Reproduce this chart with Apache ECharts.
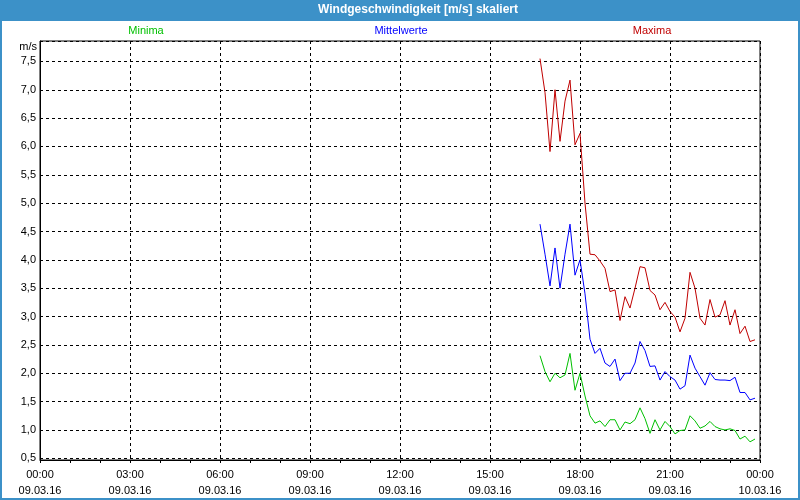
<!DOCTYPE html>
<html><head><meta charset="utf-8">
<script src="https://cdn.jsdelivr.net/npm/echarts@6/dist/echarts.min.js"></script>
<style>html,body{margin:0;padding:0;background:#fff}#c{width:800px;height:500px}</style>
</head><body><div id="c"></div>
<script>
// sampling: first value at 09.03.16 16:40, one value every 10 minutes
const startMinute = 16 * 60 + 40;
const stepMinutes = 10;

const minima = [2.31, 2.03, 1.85, 2.0, 1.92, 1.97, 2.35, 1.7, 2.0, 1.6, 1.25, 1.12, 1.16, 1.06, 1.18, 1.18, 1.0, 1.14, 1.11, 1.18, 1.39, 1.2, 0.94, 1.18, 1.0, 1.15, 1.06, 0.93, 0.99, 1.0, 1.25, 1.16, 1.03, 1.07, 1.15, 1.06, 1.02, 1.0, 1.02, 0.99, 0.84, 0.89, 0.79, 0.84];
const mittelwerte = [4.63, 4.1, 3.54, 4.21, 3.5, 4.1, 4.63, 3.73, 4.0, 3.4, 2.6, 2.35, 2.44, 2.18, 2.12, 2.25, 1.87, 2.0, 2.0, 2.18, 2.56, 2.4, 2.12, 2.13, 1.88, 2.03, 1.94, 1.88, 1.72, 1.78, 2.32, 2.09, 1.94, 1.79, 2.01, 1.89, 1.88, 1.88, 1.87, 1.93, 1.66, 1.66, 1.53, 1.56];
const maxima = [7.55, 6.95, 5.91, 7.0, 6.09, 6.8, 7.17, 6.03, 6.23, 5.0, 4.1, 4.09, 3.98, 3.85, 3.44, 3.47, 2.93, 3.35, 3.15, 3.5, 3.88, 3.86, 3.46, 3.38, 3.12, 3.25, 3.09, 2.99, 2.73, 2.97, 3.78, 3.5, 2.97, 2.85, 3.3, 2.99, 3.03, 3.28, 2.85, 3.12, 2.7, 2.83, 2.56, 2.59];

const xTickTimes = ['00:00', '03:00', '06:00', '09:00', '12:00', '15:00', '18:00', '21:00', '00:00'];
const xTickDates = ['09.03.16', '09.03.16', '09.03.16', '09.03.16', '09.03.16', '09.03.16', '09.03.16', '09.03.16', '10.03.16'];

const seriesNames = ['Minima', 'Mittelwerte', 'Maxima'];
const seriesColors = ['#00c000', '#0000ff', '#c00000'];
const chartTitle = 'Windgeschwindigkeit [m/s] skaliert';
const yUnit = 'm/s';

const FONT = '"Liberation Sans", Arial, sans-serif';
const BAR = '#3c91c8';

function pairs(arr) { return arr.map((v, i) => [startMinute + i * stepMinutes, v]); }

const chart = echarts.init(document.getElementById('c'), null, { renderer: 'canvas' });
const dashed = { color: '#000', type: [3, 3], width: 1 };

chart.setOption({
  animation: false,
  backgroundColor: '#fff',
  grid: { left: 40, right: 40, top: 41, bottom: 40, show: true, borderColor: '#000', borderWidth: 1, backgroundColor: 'transparent' },
  xAxis: {
    type: 'value', min: 0, max: 1440, interval: 180,
    axisLine: { show: true, lineStyle: { color: '#000', width: 1 } },
    axisTick: { show: true, length: 3, lineStyle: { color: '#000' } },
    minorTick: { show: true, splitNumber: 3, length: 3, lineStyle: { color: '#000' } },
    splitLine: { show: true, lineStyle: dashed },
    axisLabel: {
      color: '#000', fontSize: 11, fontFamily: FONT, margin: 7, lineHeight: 16,
      showMinLabel: true, showMaxLabel: true,
      formatter: v => { const k = Math.round(v / 180); return xTickTimes[k] + '\n' + xTickDates[k]; }
    }
  },
  yAxis: {
    type: 'value', min: 0.47, max: 7.86, splitNumber: 15,
    axisLine: { show: true, lineStyle: { color: '#000', width: 1 } },
    axisTick: { show: false },
    splitLine: { show: true, lineStyle: dashed },
    axisLabel: {
      color: '#000', fontSize: 11, fontFamily: FONT, margin: 4,
      showMinLabel: false, showMaxLabel: false,
      formatter: v => v.toFixed(1).replace('.', ',')
    }
  },
  series: [maxima, mittelwerte, minima].map((arr, j) => {
    const idx = 2 - j;
    return {
      name: seriesNames[idx], type: 'line', data: pairs(arr), showSymbol: false, symbol: 'none',
      lineStyle: { color: seriesColors[idx], width: 1 }, itemStyle: { color: seriesColors[idx] }
    };
  }),
  graphic: [
    { type: 'rect', shape: { x: 0, y: 0, width: 800, height: 21 }, style: { fill: BAR }, silent: true },
    { type: 'rect', shape: { x: 0, y: 0, width: 2, height: 500 }, style: { fill: BAR }, silent: true },
    { type: 'rect', shape: { x: 798, y: 0, width: 2, height: 500 }, style: { fill: BAR }, silent: true },
    { type: 'rect', shape: { x: 0, y: 498, width: 800, height: 2 }, style: { fill: BAR }, silent: true },
    { type: 'text', x: 418, y: 10, style: { text: chartTitle, fill: '#fff', font: 'bold 12px ' + FONT, textAlign: 'center', textVerticalAlign: 'middle' }, silent: true },
    { type: 'text', x: 146, y: 31, style: { text: seriesNames[0], fill: seriesColors[0], font: '11px ' + FONT, textAlign: 'center', textVerticalAlign: 'middle' }, silent: true },
    { type: 'text', x: 401, y: 31, style: { text: seriesNames[1], fill: seriesColors[1], font: '11px ' + FONT, textAlign: 'center', textVerticalAlign: 'middle' }, silent: true },
    { type: 'text', x: 652, y: 31, style: { text: seriesNames[2], fill: seriesColors[2], font: '11px ' + FONT, textAlign: 'center', textVerticalAlign: 'middle' }, silent: true },
    { type: 'text', x: 37, y: 47, style: { text: yUnit, fill: '#000', font: '11px ' + FONT, textAlign: 'right', textVerticalAlign: 'middle' }, silent: true }
  ]
});
</script></body></html>
